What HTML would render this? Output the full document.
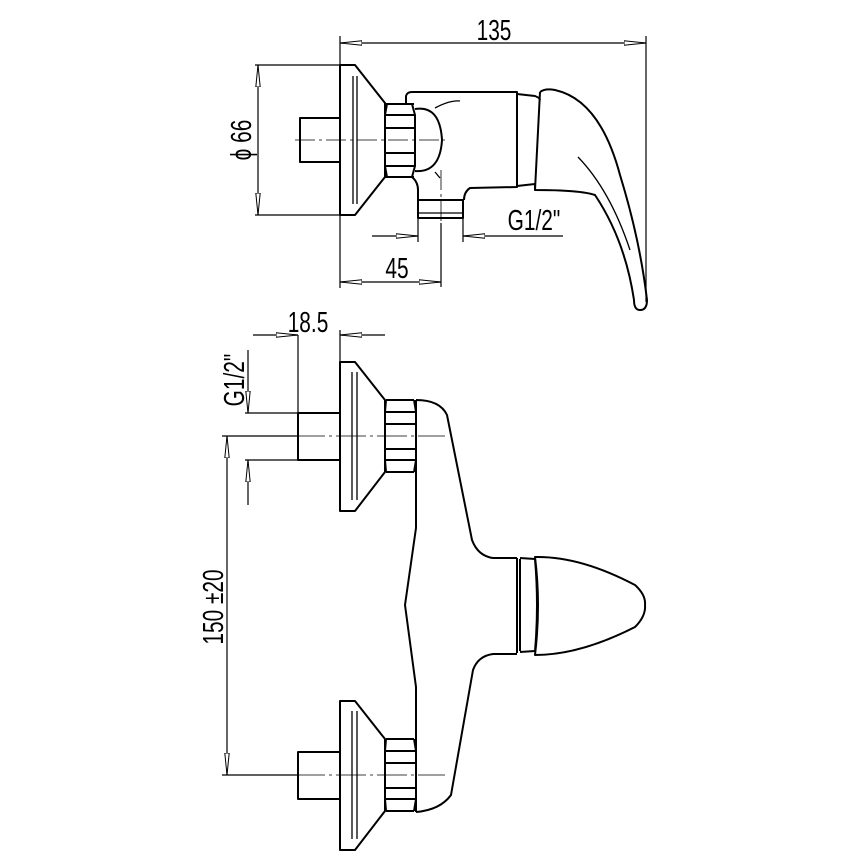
<!DOCTYPE html>
<html><head><style>html,body{margin:0;padding:0;background:#fff}svg{display:block}</style></head>
<body>
<svg width="863" height="863" viewBox="0 0 863 863" xmlns="http://www.w3.org/2000/svg">
<defs>
<marker id="a" viewBox="0 0 22 6" refX="22" refY="3" markerWidth="22" markerHeight="6" markerUnits="userSpaceOnUse" orient="auto-start-reverse"><path d="M22,3 L0,0.8 L0,5.2 Z" fill="#fff" stroke="#000" stroke-width="1"/></marker>
</defs>
<g fill="none" stroke="#000" stroke-width="2" stroke-linejoin="round">
<!-- TOP VIEW -->
<path d="M340,65 L355,65 L385,103 L385,177 L355,215 L340,215 Z"/>
<path d="M353,76 V204 M357,76 V204" stroke-width="1.3"/>
<path d="M340,118 H300 V162 H340"/>
<path d="M385,104 H414 M385,177 H414 M387,104 L385,115 V166 L387,177 M412,104 L415,115 V166 L412,177 M386,115 H414 M386,128 H414 M386,153 H414 M386,166 H414"/>
<path d="M415,109 Q440,105 442,140 Q440,173 415,171"/>
<path d="M435,108 Q450,100 460,101" stroke-width="1.3"/>
<path d="M435,172 L440,178" stroke-width="1.3"/>
<path d="M406,103 L406,96 Q407,92 412,92 L517,92 L517,187 L470,188 Q464,192 464,200"/>
<path d="M412,177 Q418,182 418,190 L418,200"/>
<path d="M418,200 H463 V218 H418 Z"/>
<path d="M419,213 H462" stroke-width="1.2"/>
<path d="M517,94 L535,96 Q540,98 540,100 M517,186 L535,184 L535,190"/>
<path d="M540,92 Q545,88 555,90 Q600,100 620,175 Q640,240 647,300 Q647,310 640,310 Q634,310 634,300 Q625,240 595,195 Q580,190 535,190 L540,92"/>
<path d="M578,157 Q610,190 630,250" stroke-width="1.3"/>
<line x1="295" y1="140" x2="445" y2="140" stroke-width="0.8" stroke-dasharray="20,4,3,4"/>
<line x1="441" y1="170" x2="441" y2="223" stroke-width="0.8" stroke-dasharray="20,4,3,4"/>
<!-- dims top -->
<g stroke-width="1.2">
<path d="M340,36 V288 M646,36 V302"/>
<line x1="340" y1="43" x2="646" y2="43" marker-start="url(#a)" marker-end="url(#a)"/>
<path d="M255,65 H340 M255,215 H340"/>
<line x1="258" y1="65" x2="258" y2="215" marker-start="url(#a)" marker-end="url(#a)"/>
<path d="M418,218 V242 M463,218 V242"/>
<line x1="372" y1="236" x2="418" y2="236" marker-end="url(#a)"/>
<line x1="563" y1="236" x2="463" y2="236" marker-end="url(#a)"/>
<path d="M441,223 V287"/>
<line x1="340" y1="282" x2="441" y2="282" marker-start="url(#a)" marker-end="url(#a)"/>
</g>
<!-- BOTTOM VIEW -->
<g id="esc">
<path d="M340,362 L355,362 L385,400 L385,472 L355,511 L340,511 Z"/>
<path d="M352,372 V500 M357,372 V500" stroke-width="1.3"/>
<path d="M340,413 H298 V460 H340"/>
<path d="M386,400 H414 M386,472 H414 M386,400 L385,412 V460 L386,472 M414,400 L416,412 V460 L414,472 M386,412 H415 M386,424 H415 M386,449 H415 M386,460 H415"/>
<line x1="295" y1="436" x2="445" y2="436" stroke-width="0.8" stroke-dasharray="30,4,3,4"/>
</g>
<use href="#esc" transform="translate(0,339)"/>
<path d="M416,400 Q440,400 447,415 L472,540 Q478,556 493,558 L517,558"/>
<path d="M416,400 V528 L405,605 L416,687 V812"/>
<path d="M517,654 L493,654 Q478,656 473,670 L451,795 Q440,810 416,812"/>
<path d="M517,558 V653 M520,559 V651"/>
<path d="M520,558 L535,559 Q539,605 535,651 L520,652"/>
<path d="M535,557 Q580,556 635,585 Q646,595 645,605 Q646,616 635,627 Q580,655 535,655 Q541,605 535,557 Z"/>
<!-- dims bottom -->
<g stroke-width="1.2">
<path d="M298,335 V413 M340,330 V362"/>
<line x1="253" y1="335" x2="298" y2="335" marker-end="url(#a)"/>
<line x1="385" y1="335" x2="340" y2="335" marker-end="url(#a)"/>
<path d="M245,413 H298 M245,460 H298"/>
<line x1="248" y1="350" x2="248" y2="413" marker-end="url(#a)"/>
<line x1="248" y1="505" x2="248" y2="460" marker-end="url(#a)"/>
<path d="M222,436 H298 M222,775 H298"/>
<line x1="227" y1="436" x2="227" y2="775" marker-start="url(#a)" marker-end="url(#a)"/>
</g>
</g>
<g font-family="Liberation Sans, sans-serif" font-size="29" fill="#000">
<text transform="translate(494,40) scale(0.72,1)" text-anchor="middle">135</text>
<text transform="translate(251,140) rotate(-90) scale(0.72,1)" text-anchor="middle">ϕ 66</text>
<text transform="translate(534,230) scale(0.72,1)" text-anchor="middle">G1/2"</text>
<text transform="translate(397,278) scale(0.72,1)" text-anchor="middle">45</text>
<text transform="translate(308,332) scale(0.72,1)" text-anchor="middle">18.5</text>
<text transform="translate(244,380) rotate(-90) scale(0.72,1)" text-anchor="middle">G1/2"</text>
<text transform="translate(223,607) rotate(-90) scale(0.72,1)" text-anchor="middle">150 ±20</text>
</g>
</svg>
</body></html>
